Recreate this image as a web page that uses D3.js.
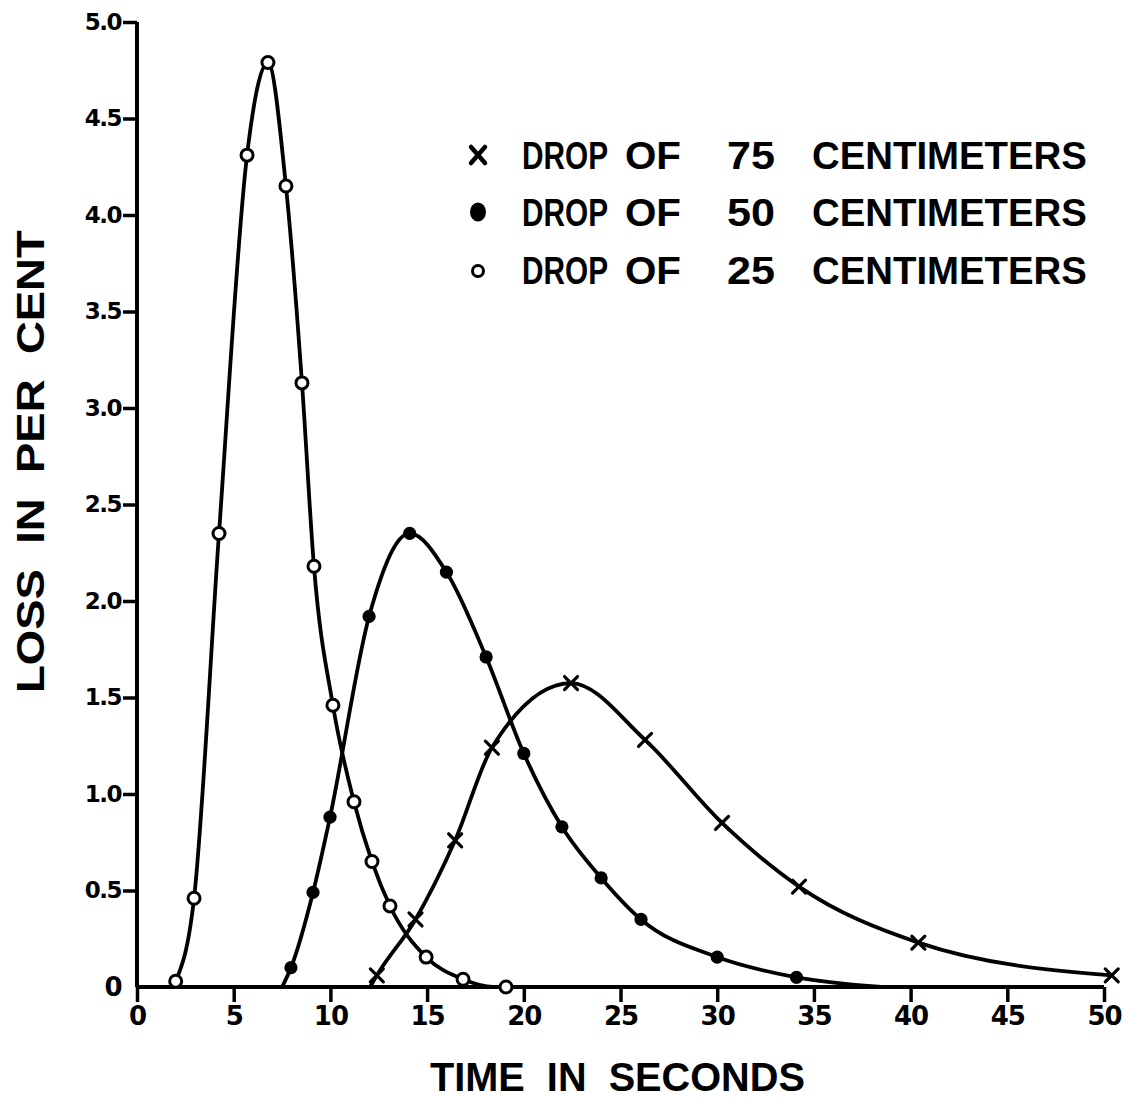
<!DOCTYPE html>
<html>
<head>
<meta charset="utf-8">
<script src="https://cdn.jsdelivr.net/npm/d3@7"></script>
<style>
  html, body { margin: 0; padding: 0; background: #fff; }
  svg { display: block; }
  text { font-family: "Liberation Sans", Arial, sans-serif; font-weight: bold; fill: #000; }
</style>
</head>
<body>
<div id="chart"></div>
<script>
// ---- data ----
const xTicks = [0, 5, 10, 15, 20, 25, 30, 35, 40, 45, 50];
const xTickLabels = ["0", "5", "10", "15", "20", "25", "30", "35", "40", "45", "50"];
const yTicks = [0, 0.5, 1.0, 1.5, 2.0, 2.5, 3.0, 3.5, 4.0, 4.5, 5.0];
const yTickLabels = ["0", "0.5", "1.0", "1.5", "2.0", "2.5", "3.0", "3.5", "4.0", "4.5", "5.0"];

// drop of 25 cm (open circles)
const time25 = [2.0, 2.95, 4.24, 5.69, 6.77, 7.70, 8.53, 9.15, 10.13, 11.22, 12.15, 13.08, 14.95, 16.86, 19.08];
const loss25 = [0.03, 0.46, 2.35, 4.31, 4.79, 4.15, 3.13, 2.18, 1.46, 0.96, 0.65, 0.42, 0.155, 0.04, 0.0];
// drop of 50 cm (filled circles)
const time50 = [7.96, 9.1, 9.98, 12.0, 14.1, 16.0, 18.05, 20.0, 21.97, 24.0, 26.06, 30.0, 34.1];
const loss50 = [0.10, 0.49, 0.88, 1.92, 2.35, 2.15, 1.71, 1.21, 0.83, 0.565, 0.35, 0.155, 0.05];
// drop of 75 cm (crosses)
const time75 = [12.4, 14.4, 16.45, 18.35, 22.44, 26.27, 30.25, 34.23, 40.4, 50.4];
const loss75 = [0.06, 0.35, 0.76, 1.24, 1.575, 1.28, 0.85, 0.52, 0.23, 0.06];

// where each drawn curve meets the time axis
const curveStart25 = [[2.0, 0.03]];
const curveEnd25 = [[18.4, 0.0], [19.08, 0.0]];
const curveStart50 = [[7.5, 0.0]];
const curveEnd50 = [[38.5, 0.0]];
const curveStart75 = [[12.05, 0.0]];
const curveEnd75 = [];

const legendWords = [["DROP", "OF", "75", "CENTIMETERS"], ["DROP", "OF", "50", "CENTIMETERS"], ["DROP", "OF", "25", "CENTIMETERS"]];
const legendSymbols = ["cross", "dot", "circle"];
const xTitle = "TIME  IN  SECONDS";
const yTitle = "LOSS  IN  PER  CENT";

// ---- drawing ----
const W = 1132, H = 1098;
const svg = d3.select("#chart").append("svg").attr("width", W).attr("height", H);
svg.append("rect").attr("width", W).attr("height", H).attr("fill", "#fff");

const x = d3.scaleLinear().domain([0, 50]).range([137, 1104]);
const y = d3.scaleLinear().domain([0, 5]).range([987, 22]);

const zip = (t, v) => t.map((d, i) => [d, v[i]]);
const s25 = zip(time25, loss25), s50 = zip(time50, loss50), s75 = zip(time75, loss75);

const tickFont = "'DejaVu Sans', 'Liberation Sans', sans-serif";

// axes
const xAxis = d3.axisBottom(x).tickValues(xTicks).tickFormat((d, i) => xTickLabels[i]).tickSize(15).tickPadding(5);
const gx = svg.append("g").attr("transform", `translate(0,${y(0)})`).call(xAxis);
gx.attr("font-family", null).attr("font-size", null);
gx.select(".domain").attr("stroke", "#000").attr("stroke-width", 4).attr("d", `M${x(0)},0H${x(50)}`);
gx.selectAll(".tick line").attr("stroke", "#000").attr("stroke-width", 3.5);
gx.selectAll(".tick text").style("font-size", "26px").style("font-family", tickFont).style("font-weight", "bold").attr("fill", "#000").attr("letter-spacing", -1);

const yAxis = d3.axisLeft(y).tickValues(yTicks).tickFormat((d, i) => yTickLabels[i]).tickSize(14).tickPadding(2);
const gy = svg.append("g").attr("transform", `translate(${x(0)},0)`).call(yAxis);
gy.attr("font-family", null).attr("font-size", null);
gy.select(".domain").attr("stroke", "#000").attr("stroke-width", 4).attr("d", `M0,${y(0)}V${y(5)}`);
gy.selectAll(".tick line").attr("stroke", "#000").attr("stroke-width", 3.5);
gy.selectAll(".tick text").style("font-size", "23px").style("font-family", tickFont).style("font-weight", "bold").attr("fill", "#000").attr("letter-spacing", -1.5);
gy.selectAll(".tick").filter(d => d === 0).select("line").attr("stroke", "none");
gy.selectAll(".tick").filter(d => d === 0).select("text").style("font-size", "26px");

// curves
const line = d3.line().x(d => x(d[0])).y(d => y(d[1])).curve(d3.curveMonotoneX);
const curves = [
  curveStart25.concat(s25.slice(1, -1), curveEnd25),
  curveStart50.concat(s50, curveEnd50),
  curveStart75.concat(s75, curveEnd75)
];
svg.append("g").selectAll("path").data(curves).join("path")
  .attr("d", line).attr("fill", "none").attr("stroke", "#000").attr("stroke-width", 3.8)
  .attr("stroke-linejoin", "round").attr("stroke-linecap", "round");

// markers
function drawSymbol(g, kind, cx, cy, size) {
  if (kind === "circle") {
    g.append("circle").attr("cx", cx).attr("cy", cy).attr("r", size * 0.5)
      .attr("fill", "#fff").attr("stroke", "#000").attr("stroke-width", 3);
  } else if (kind === "dot") {
    g.append("circle").attr("cx", cx).attr("cy", cy).attr("r", size * 0.6).attr("fill", "#000");
  } else {
    const h = size * 0.5;
    g.append("path").attr("d", `M${cx - h},${cy - h}L${cx + h},${cy + h}M${cx + h},${cy - h}L${cx - h},${cy + h}`)
      .attr("stroke", "#000").attr("stroke-width", 3.2).attr("stroke-linecap", "round").attr("fill", "none");
  }
}
const gm = svg.append("g");
s25.forEach(d => drawSymbol(gm, "circle", x(d[0]), y(d[1]), 12));
s50.forEach(d => drawSymbol(gm, "dot", x(d[0]), y(d[1]), 11));
s75.forEach(d => drawSymbol(gm, "cross", x(d[0]), y(d[1]), 13));

// fit a text element horizontally into a target width (keeps its height)
function fitText(t, x0, y0, target) {
  const natural = t.node().getComputedTextLength();
  const k = target / natural;
  t.attr("x", 0).attr("y", 0).attr("transform", `translate(${x0},${y0}) scale(${k},1)`);
}

// legend
const lg = svg.append("g");
const rowY = [155, 212, 270];
const wordX = [522, 625, 727, 812];
const wordW = [86, 56, 48, 275];
legendWords.forEach((words, r) => {
  const sym = legendSymbols[r];
  if (sym === "cross") {
    lg.append("path").attr("d", `M${471},${rowY[r] - 8}Q478,${rowY[r]} ${485},${rowY[r] + 8}M${485},${rowY[r] - 8}Q478,${rowY[r]} ${471},${rowY[r] + 8}`)
      .attr("stroke", "#000").attr("stroke-width", 4.5).attr("stroke-linecap", "round").attr("fill", "none");
  } else if (sym === "dot") {
    lg.append("ellipse").attr("cx", 478).attr("cy", rowY[r]).attr("rx", 8).attr("ry", 9.5).attr("fill", "#000");
  } else {
    drawSymbol(lg, "circle", 478, rowY[r] + 1, 11);
  }
  words.forEach((w, i) => {
    const t = lg.append("text").style("font-size", "39px").style("font-weight", "bold").text(w);
    fitText(t, wordX[i], rowY[r] + 14, wordW[i]);
  });
});

// axis titles
const xt = svg.append("text").style("font-size", "40px").style("white-space", "pre").text(xTitle);
fitText(xt, 430, 1091, 375);
const yt = svg.append("text").style("font-size", "39px").style("white-space", "pre").text(yTitle);
const ytLen = yt.node().getComputedTextLength();
yt.attr("transform", `translate(44,693) rotate(-90) scale(${463 / ytLen},1)`);
</script>
</body>
</html>
